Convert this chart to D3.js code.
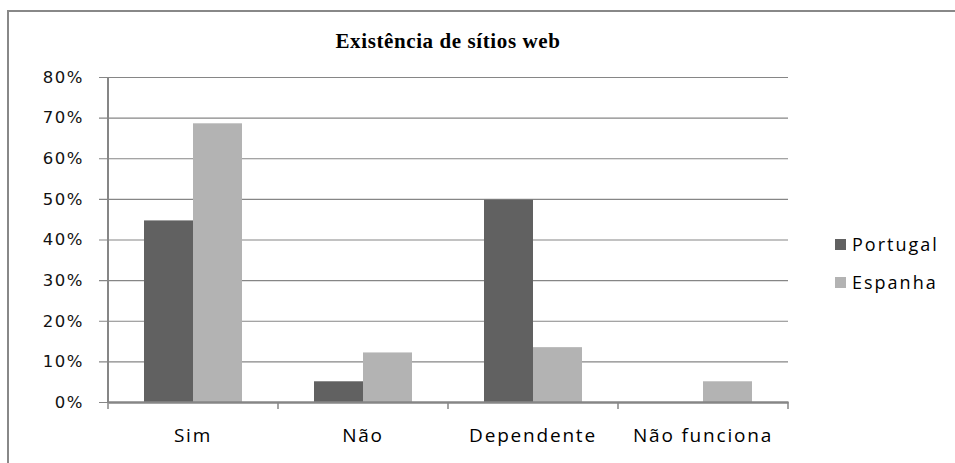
<!DOCTYPE html>
<html>
<head>
<meta charset="utf-8">
<script src="https://cdn.jsdelivr.net/npm/d3@7"></script>
<style>
  html, body { margin: 0; padding: 0; background: #fff; }
  svg { display: block; }
</style>
</head>
<body>
<svg id="chart" width="955" height="463"></svg>
<script>
const categories = ["Sim", "Não", "Dependente", "Não funciona"];
const seriesNames = ["Portugal", "Espanha"];
const portugal = [0.447, 0.051, 0.498, 0];
const espanha = [0.686, 0.122, 0.135, 0.051];
const yTicks = [0, 0.1, 0.2, 0.3, 0.4, 0.5, 0.6, 0.7, 0.8];
const title = "Existência de sítios web";
const colors = ["#616161", "#b3b3b3"];

const series = [portugal, espanha];
const svg = d3.select("#chart");

// outer chart border (clipped at right/bottom like reference)
svg.append("rect")
  .attr("x", 8).attr("y", 11).attr("width", 1000).attr("height", 500)
  .attr("fill", "#fff").attr("stroke", "#888").attr("stroke-width", 2);

const pLeft = 108, pRight = 788, pTop = 77, pBottom = 402;

const x = d3.scaleBand().domain(categories).range([pLeft, pRight]).paddingInner(0).paddingOuter(0);
const x1 = d3.scaleBand().domain(seriesNames).range([0, x.bandwidth()]).paddingInner(0).paddingOuter(0.735);
const y = d3.scaleLinear().domain([0, 0.8]).range([pBottom, pTop]);

// gridlines + y ticks
const yAxis = d3.axisLeft(y).tickValues(yTicks).tickFormat(d3.format(".0%"))
  .tickSize(-(pRight - pLeft)).tickSizeOuter(0).tickPadding(16);
const gy = svg.append("g").attr("transform", `translate(${pLeft},0)`).call(yAxis);
gy.select(".domain").remove();
gy.selectAll(".tick line").attr("stroke", "#868686").attr("stroke-width", 1.2)
  .attr("x1", -9);
gy.selectAll(".tick text")
  .attr("font-family", "DejaVu Sans").attr("font-size", 16.5)
  .attr("letter-spacing", "1.5px")
  .attr("fill", "#111").attr("x", -24);

// bars
const groups = svg.append("g").selectAll("g").data(categories).join("g")
  .attr("transform", d => `translate(${x(d)},0)`);
seriesNames.forEach((s, si) => {
  groups.append("rect")
    .attr("x", x1(s))
    .attr("width", x1.bandwidth())
    .attr("y", (d, i) => y(series[si][i]))
    .attr("height", (d, i) => y(0) - y(series[si][i]))
    .attr("fill", colors[si]);
});

// y axis line
svg.append("line").attr("x1", pLeft).attr("x2", pLeft).attr("y1", pTop).attr("y2", pBottom)
  .attr("stroke", "#868686").attr("stroke-width", 2);

// x axis
const xAxis = d3.axisBottom(x).tickSize(0).tickPadding(27);
const gx = svg.append("g").attr("transform", `translate(0,${pBottom})`).call(xAxis);
gx.select(".domain").attr("stroke", "#868686").attr("stroke-width", 2.4);
gx.selectAll(".tick text")
  .attr("font-family", "Open Sans").attr("font-size", 19)
  .attr("letter-spacing", "1.8px")
  .attr("fill", "#000");
// category separator ticks
const sepPos = categories.map(c => x(c)).concat([pRight]);
svg.append("g").selectAll("line").data(sepPos).join("line")
  .attr("x1", d => d).attr("x2", d => d)
  .attr("y1", pBottom).attr("y2", pBottom + 7)
  .attr("stroke", "#868686").attr("stroke-width", 1.5);

// title
svg.append("text")
  .attr("x", (pLeft + pRight) / 2).attr("y", 48)
  .attr("text-anchor", "middle")
  .attr("font-family", "Liberation Serif").attr("font-weight", "bold")
  .attr("font-size", 21)
  .attr("letter-spacing", "0.6px")
  .attr("fill", "#000")
  .text(title);

// legend
const leg = svg.append("g").selectAll("g").data(seriesNames).join("g")
  .attr("transform", (d, i) => `translate(835,${239 + i * 38})`);
leg.append("rect").attr("width", 11).attr("height", 11).attr("fill", (d, i) => colors[i]);
leg.append("text").attr("x", 17).attr("y", 11.5)
  .attr("font-family", "Open Sans").attr("font-size", 18)
  .attr("letter-spacing", "2px")
  .attr("fill", "#000").text(d => d);
</script>
</body>
</html>
